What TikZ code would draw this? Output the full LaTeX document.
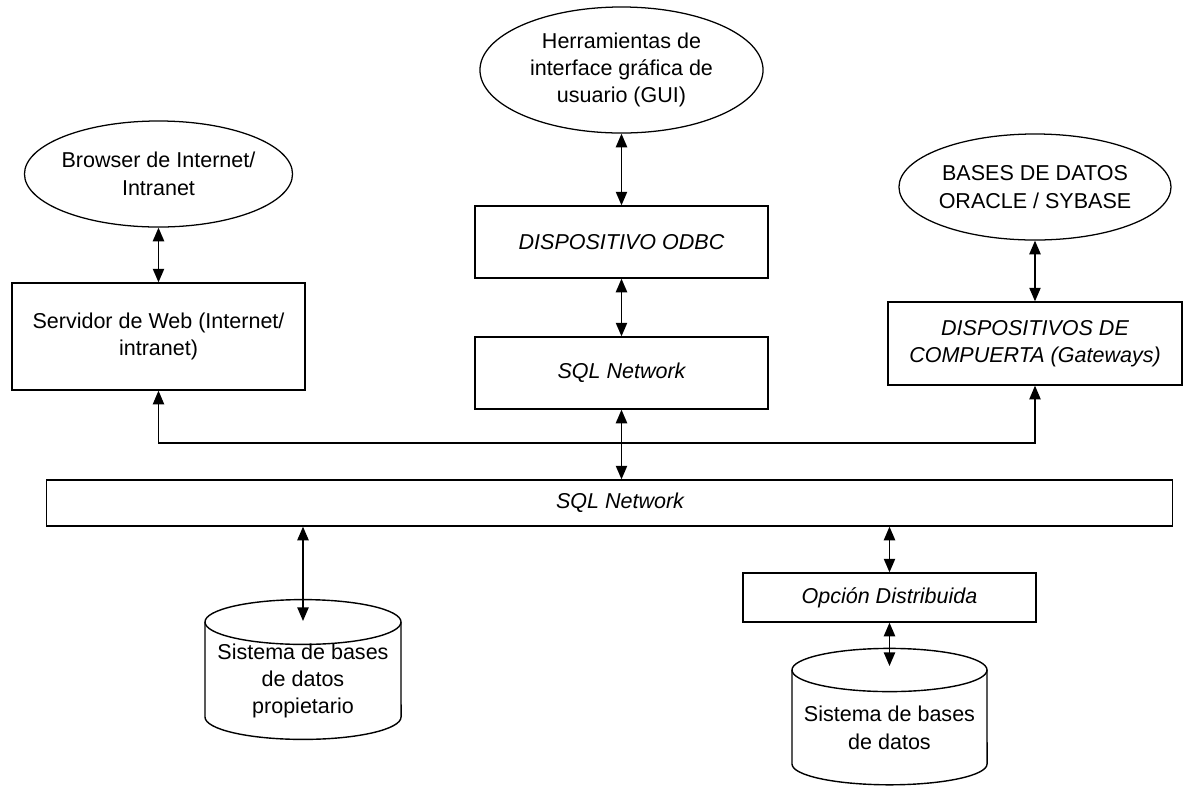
\documentclass[tikz,border=0pt]{standalone}
\usepackage{fontspec}
\setmainfont{Liberation Sans}
\usetikzlibrary{shapes.geometric,arrows.meta}
\begin{document}
\begin{tikzpicture}[x=0.025cm,y=-0.025cm,
  every node/.style={font=\fontsize{15.3}{19.5}\selectfont, align=center, inner sep=0pt},
  box/.style={draw, rectangle, line width=0.9pt},
  oval/.style={draw, ellipse, line width=0.9pt, inner sep=-8pt},
  it/.style={font=\fontsize{15.3}{19.5}\selectfont\itshape},
  drum/.style={line width=1pt},
  tip/.tip={Triangle[length=3.4mm,width=2.8mm]},
  dbl/.style={line width=1.2pt, tip-tip},
  up/.style={line width=0.9pt, -tip}
]
\useasboundingbox (0,0) rectangle (1186,785);

% client-side tools
\node[oval, minimum width=6.7cm, minimum height=2.65cm] (web) at (158.5,174) {Browser de Internet/\\Intranet};
\node[oval, minimum width=7.075cm, minimum height=3.15cm] (gui) at (621.5,70) {Herramientas de\\interface gráfica de\\usuario (GUI)};
\node[oval, minimum width=6.8cm, minimum height=2.65cm] (ora) at (1035,187) {BASES DE DATOS\\ORACLE / SYBASE};

% middleware boxes
\node[box, minimum width=7.325cm, minimum height=2.675cm] (srv) at (158.5,336.5) {Servidor de Web (Internet/\\intranet)};
\node[box, it, minimum width=7.325cm, minimum height=1.8cm] (odbc) at (621.5,242) {DISPOSITIVO ODBC};
\node[box, it, minimum width=7.325cm, minimum height=1.8cm] (net) at (621.5,373) {SQL Network};
\node[box, it, minimum width=7.35cm, minimum height=2.075cm] (gw) at (1035,343.5) {DISPOSITIVOS DE\\COMPUERTA (Gateways)};

% network bus
\node[box, minimum width=28.125cm, minimum height=1.15cm] (bus) at (609.5,503) {};
\node[it] (buslbl) at (620,503) {SQL Network};

\node[box, it, minimum width=7.325cm, minimum height=1.225cm] (opc) at (889.5,597.5) {Opción Distribuida};

% database drums
\draw[drum] (205,622) -- (205,717) arc[start angle=180, end angle=360, x radius=2.45cm, y radius=0.56cm] -- (401,622);
\draw[drum] (303,622) ellipse [x radius=2.45cm, y radius=0.56cm];
\node (db1) at (303,681) {Sistema de bases\\de datos\\propietario};
\coordinate (db1in) at (303,621);

\draw[drum] (792,670) -- (792,764) arc[start angle=180, end angle=360, x radius=2.4375cm, y radius=0.52cm] -- (987,670);
\draw[drum] (889.5,670) ellipse [x radius=2.4375cm, y radius=0.54cm];
\node (db2) at (889.5,728) {Sistema de bases\\de datos};
\coordinate (db2in) at (889.5,666);

% connectors
\draw[dbl] (web.south) -- (srv.north);
\draw[dbl] (gui.south) -- (odbc.north);
\draw[dbl] (odbc.south) -- (net.north);
\draw[dbl] (ora.south) -- (gw.north);
\draw[dbl] (net.south) -- (net.south |- bus.north);
\coordinate (jn) at (621.5,443);
\draw[up] (jn) -| (srv.south);
\draw[up] (jn) -| (gw.south);
\draw[dbl] (db1in |- bus.south) -- (db1in);
\draw[dbl] (opc.north |- bus.south) -- (opc.north);
\draw[dbl] (opc.south) -- (db2in);
\end{tikzpicture}
\end{document}
